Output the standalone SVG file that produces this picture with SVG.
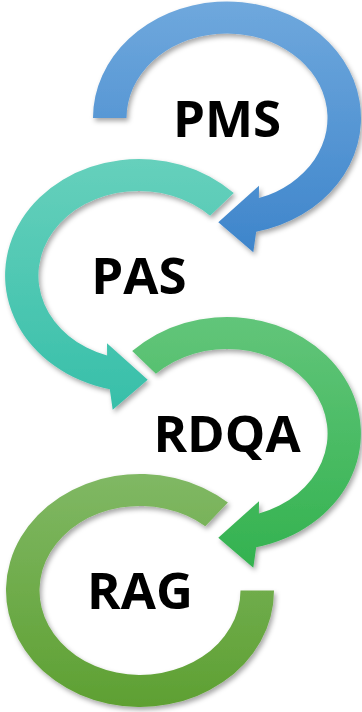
<svg xmlns="http://www.w3.org/2000/svg" width="362" height="712" viewBox="0 0 362 712">
  <defs>
    <linearGradient id="gBlue" x1="0" y1="0" x2="0" y2="1">
      <stop offset="0" stop-color="#6FA8DD"/>
      <stop offset="1" stop-color="#3E85CB"/>
    </linearGradient>
    <linearGradient id="gTeal" x1="0" y1="0" x2="0" y2="1">
      <stop offset="0" stop-color="#66D0BC"/>
      <stop offset="1" stop-color="#37BFA9"/>
    </linearGradient>
    <linearGradient id="gGreen" x1="0" y1="0" x2="0" y2="1">
      <stop offset="0" stop-color="#62C57A"/>
      <stop offset="1" stop-color="#33B24F"/>
    </linearGradient>
    <linearGradient id="gOlive" x1="0" y1="0" x2="0" y2="1">
      <stop offset="0" stop-color="#80B864"/>
      <stop offset="1" stop-color="#5EA032"/>
    </linearGradient>
    <filter id="sh" x="-20%" y="-20%" width="140%" height="140%">
      <feDropShadow dx="2" dy="3" stdDeviation="2.5" flood-color="#000" flood-opacity="0.35"/>
    </filter>
  </defs>
  <style>
    .arc { filter: url(#sh); }
    .lbl { font-family: "Open Sans", "Liberation Sans", sans-serif; font-weight: bold; font-size: 51px; fill: #000; text-anchor: middle; }
  </style>
  <g id="connectors"/>
  <g id="node-pms" transform="translate(227,118)">
    <path class="arc" fill="url(#gBlue)" d="M -134,0 A 134 116.5 0 1 1 29.2,113.7 L 26.3,134.3 L -8.7,104.3 L 32,67.7 L 31.9,80.1 A 100.5 84.5 0 1 0 -100.5,0 Z"/>
    <text class="lbl" x="0" y="18.5">PMS</text>
  </g>
  <g id="node-pas" transform="translate(139,275.5)">
    <path class="arc" fill="url(#gTeal)" d="M 94.8,-82.4 A 134 116.5 0 1 0 -29.2,113.7 L -26.3,134.3 L 8.7,104.3 L -32,67.7 L -31.9,80.1 A 100.5 84.5 0 1 1 71.1,-59.7 Z"/>
    <text class="lbl" x="0" y="18.5">PAS</text>
  </g>
  <g id="node-rdqa" transform="translate(227,433.5)">
    <path class="arc" fill="url(#gGreen)" d="M -94.8,-82.4 A 134 116.5 0 1 1 29.2,113.7 L 26.3,134.3 L -8.7,104.3 L 32,67.7 L 31.9,80.1 A 100.5 84.5 0 1 0 -71.1,-59.7 Z"/>
    <text class="lbl" x="0" y="18.5">RDQA</text>
  </g>
  <g id="node-rag" transform="translate(140,590.5)">
    <path class="arc" fill="url(#gOlive)" d="M 134,0 A 134 116.5 0 1 1 87.9,-87.9 L 65.3,-64.3 A 100.5 84.5 0 1 0 100.5,0 Z"/>
    <text class="lbl" x="0" y="18.5">RAG</text>
  </g>
</svg>
